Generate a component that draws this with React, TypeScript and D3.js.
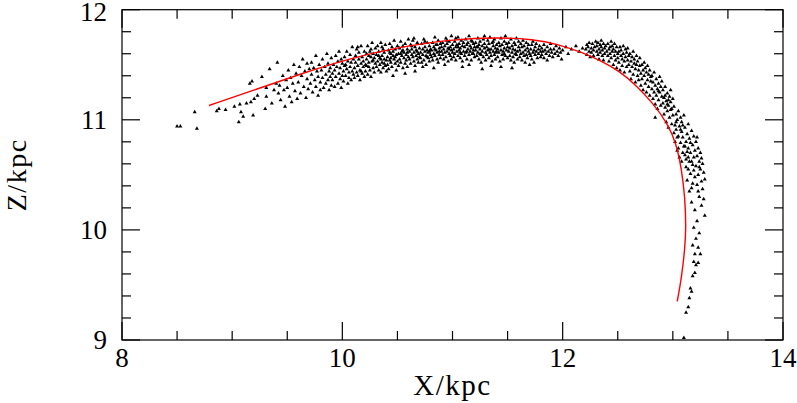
import * as d3 from "d3";

const W = 797;
const H = 403;

// model orbit (red line)
const orbitPts: [number, number][] = [
  [8.79, 11.13], [9.2, 11.27], [9.6, 11.41], [10.07, 11.56], [10.52, 11.66], [10.98, 11.73],
  [11.43, 11.75], [11.73, 11.73], [11.95, 11.69], [12.18, 11.61], [12.34, 11.54], [12.52, 11.44],
  [12.67, 11.31], [12.82, 11.15], [12.95, 10.97], [13.03, 10.79], [13.08, 10.55], [13.11, 10.3],
  [13.12, 10.02], [13.11, 9.84], [13.08, 9.57], [13.04, 9.35],
];

// stream particles, left sparse tail
const tailPts: [number, number][] = [
  [8.5, 10.94], [8.53, 10.94], [8.66, 11.07], [8.68, 10.92], [8.86, 11.08], [8.88, 11.1], [8.94, 11.09],
  [9.02, 11.12], [9.06, 10.98], [9.07, 11.14], [9.08, 11.07], [9.1, 11.03], [9.13, 11.15], [9.16, 11.33],
  [9.18, 11.35], [9.19, 11.04], [9.17, 11.16], [9.2, 11.19], [9.23, 11.22], [9.27, 11.39], [9.3, 11.1],
  [9.31, 11.29], [9.31, 11.21], [9.34, 11.46], [9.36, 11.15], [9.38, 11.27], [9.4, 11.33],
  [9.41, 11.52], [9.42, 11.24], [9.43, 11.31], [9.44, 11.18], [9.46, 11.4], [9.47, 11.27], [9.48, 11.12], [9.49, 11.36],
  [9.5, 11.29], [9.51, 11.45], [9.52, 11.21], [9.53, 11.38], [9.54, 11.16], [9.55, 11.33], [9.56, 11.5], [9.57, 11.26], [9.58, 11.42], [9.59, 11.19],
  [9.6, 11.34], [9.61, 11.48], [9.62, 11.24], [9.63, 11.4], [9.64, 11.55], [9.65, 11.3], [9.66, 11.44], [9.67, 11.2], [9.68, 11.37], [9.68, 11.51], [9.69, 11.28], [9.7, 11.46],
  [9.71, 11.33], [9.72, 11.52], [9.72, 11.41], [9.73, 11.25], [9.74, 11.47], [9.75, 11.36], [9.76, 11.58], [9.76, 11.3], [9.77, 11.44], [9.78, 11.22], [9.78, 11.39], [9.79, 11.5], [9.8, 11.34], [9.8, 11.27],
];

// main arch
const archPts: [number, number][] = [
  [9.81, 11.45], [9.82, 11.38], [9.82, 11.55], [9.83, 11.29], [9.84, 11.48], [9.85, 11.41], [9.85, 11.33], [9.86, 11.6], [9.87, 11.36], [9.87, 11.51], [9.88, 11.27], [9.88, 11.44], [9.89, 11.39], [9.9, 11.56], [9.9, 11.31], [9.89, 11.47],
  [9.91, 11.42], [9.91, 11.36], [9.92, 11.5], [9.93, 11.3], [9.93, 11.45], [9.94, 11.58], [9.94, 11.39], [9.95, 11.48], [9.96, 11.33], [9.96, 11.53], [9.97, 11.42], [9.97, 11.62], [9.98, 11.37], [9.98, 11.47], [9.99, 11.29], [9.99, 11.55], [10.0, 11.4], [10.0, 11.51],
  [10.01, 11.44], [10.01, 11.35], [10.02, 11.57], [10.02, 11.49], [10.03, 11.4], [10.04, 11.62], [10.04, 11.46], [10.05, 11.33], [10.05, 11.53], [10.06, 11.43], [10.06, 11.38], [10.07, 11.59], [10.07, 11.48], [10.08, 11.36], [10.08, 11.52], [10.09, 11.44], [10.09, 11.66], [10.1, 11.41], [10.1, 11.55], [10.03, 11.5],
  [10.11, 11.47], [10.11, 11.38], [10.12, 11.58], [10.12, 11.52], [10.13, 11.43], [10.13, 11.64], [10.14, 11.49], [10.14, 11.4], [10.15, 11.55], [10.15, 11.61], [10.16, 11.45], [10.16, 11.36], [10.17, 11.51], [10.17, 11.67], [10.18, 11.42], [10.18, 11.57], [10.19, 11.48], [10.19, 11.53], [10.2, 11.39], [10.2, 11.62], [10.14, 11.66], [10.17, 11.44],
  [10.21, 11.5], [10.21, 11.44], [10.22, 11.6], [10.22, 11.55], [10.23, 11.41], [10.23, 11.67], [10.24, 11.48], [10.24, 11.52], [10.25, 11.62], [10.25, 11.45], [10.26, 11.57], [10.26, 11.39], [10.27, 11.53], [10.27, 11.7], [10.28, 11.47], [10.28, 11.6], [10.29, 11.43], [10.29, 11.56], [10.3, 11.51], [10.3, 11.65], [10.22, 11.49], [10.26, 11.64], [10.28, 11.54], [10.24, 11.58],
  [10.31, 11.48], [10.31, 11.59], [10.32, 11.53], [10.32, 11.67], [10.33, 11.45], [10.33, 11.62], [10.34, 11.56], [10.34, 11.5], [10.35, 11.7], [10.35, 11.43], [10.36, 11.58], [10.36, 11.52], [10.37, 11.64], [10.37, 11.47], [10.38, 11.55], [10.38, 11.61], [10.39, 11.49], [10.39, 11.68], [10.4, 11.54], [10.4, 11.44], [10.33, 11.58], [10.36, 11.66], [10.38, 11.51], [10.35, 11.55],
  [10.41, 11.57], [10.41, 11.5], [10.42, 11.63], [10.42, 11.46], [10.43, 11.69], [10.43, 11.54], [10.44, 11.6], [10.44, 11.52], [10.45, 11.66], [10.45, 11.48], [10.46, 11.58], [10.46, 11.62], [10.47, 11.55], [10.47, 11.72], [10.48, 11.51], [10.48, 11.64], [10.49, 11.45], [10.49, 11.59], [10.5, 11.67], [10.5, 11.53], [10.43, 11.61], [10.46, 11.4], [10.48, 11.57], [10.44, 11.56],
  [10.51, 11.6], [10.51, 11.49], [10.52, 11.65], [10.52, 11.55], [10.53, 11.71], [10.53, 11.52], [10.54, 11.62], [10.54, 11.58], [10.55, 11.47], [10.55, 11.67], [10.56, 11.56], [10.56, 11.61], [10.57, 11.51], [10.57, 11.69], [10.58, 11.59], [10.58, 11.54], [10.59, 11.64], [10.59, 11.48], [10.6, 11.57], [10.6, 11.73], [10.53, 11.6], [10.55, 11.63], [10.57, 11.42], [10.59, 11.61],
  [10.61, 11.62], [10.61, 11.55], [10.62, 11.68], [10.62, 11.51], [10.63, 11.59], [10.63, 11.64], [10.64, 11.57], [10.64, 11.72], [10.65, 11.53], [10.65, 11.61], [10.66, 11.66], [10.66, 11.49], [10.67, 11.58], [10.67, 11.63], [10.68, 11.55], [10.68, 11.7], [10.69, 11.6], [10.69, 11.52], [10.7, 11.65], [10.7, 11.57], [10.63, 11.67], [10.66, 11.44], [10.68, 11.62], [10.65, 11.74],
  [10.71, 11.61], [10.71, 11.56], [10.72, 11.69], [10.72, 11.52], [10.73, 11.64], [10.73, 11.59], [10.74, 11.73], [10.74, 11.54], [10.75, 11.62], [10.75, 11.66], [10.76, 11.58], [10.76, 11.5], [10.77, 11.63], [10.77, 11.7], [10.78, 11.56], [10.78, 11.61], [10.79, 11.67], [10.79, 11.53], [10.8, 11.59], [10.8, 11.64], [10.73, 11.48], [10.75, 11.71], [10.77, 11.57], [10.79, 11.62],
  [10.81, 11.63], [10.81, 11.57], [10.82, 11.7], [10.82, 11.54], [10.83, 11.66], [10.83, 11.6], [10.84, 11.75], [10.84, 11.58], [10.85, 11.63], [10.85, 11.68], [10.86, 11.55], [10.86, 11.61], [10.87, 11.72], [10.87, 11.52], [10.88, 11.65], [10.88, 11.59], [10.89, 11.69], [10.89, 11.56], [10.9, 11.62], [10.9, 11.66], [10.83, 11.47], [10.86, 11.68], [10.88, 11.62], [10.84, 11.64],
  [10.91, 11.59], [10.91, 11.7], [10.92, 11.55], [10.92, 11.64], [10.93, 11.67], [10.93, 11.61], [10.94, 11.74], [10.94, 11.57], [10.95, 11.62], [10.95, 11.69], [10.96, 11.53], [10.96, 11.65], [10.97, 11.6], [10.97, 11.71], [10.98, 11.58], [10.98, 11.66], [10.99, 11.63], [10.99, 11.55], [11.0, 11.68], [11.0, 11.61], [10.93, 11.5], [10.95, 11.72], [10.97, 11.64], [10.99, 11.76],
  [11.01, 11.64], [11.01, 11.57], [11.02, 11.71], [11.02, 11.6], [11.03, 11.66], [11.03, 11.54], [11.04, 11.68], [11.04, 11.62], [11.05, 11.75], [11.05, 11.58], [11.06, 11.63], [11.06, 11.69], [11.07, 11.56], [11.07, 11.65], [11.08, 11.72], [11.08, 11.6], [11.09, 11.67], [11.09, 11.53], [11.1, 11.62], [11.1, 11.7], [11.03, 11.74], [11.05, 11.66], [11.07, 11.61], [11.09, 11.48],
  [11.11, 11.58], [11.11, 11.66], [11.12, 11.73], [11.12, 11.61], [11.13, 11.55], [11.13, 11.68], [11.14, 11.64], [11.14, 11.7], [11.15, 11.59], [11.15, 11.76], [11.16, 11.62], [11.16, 11.67], [11.17, 11.54], [11.17, 11.65], [11.18, 11.71], [11.18, 11.6], [11.19, 11.63], [11.19, 11.69], [11.2, 11.57], [11.2, 11.66], [11.13, 11.62], [11.15, 11.5], [11.17, 11.72], [11.19, 11.6],
  [11.21, 11.63], [11.21, 11.7], [11.22, 11.58], [11.22, 11.66], [11.23, 11.74], [11.23, 11.61], [11.24, 11.55], [11.24, 11.68], [11.25, 11.64], [11.25, 11.71], [11.26, 11.59], [11.26, 11.52], [11.27, 11.67], [11.27, 11.62], [11.28, 11.73], [11.28, 11.57], [11.29, 11.65], [11.29, 11.69], [11.3, 11.61], [11.3, 11.54], [11.23, 11.66], [11.25, 11.6], [11.27, 11.46], [11.29, 11.76],
  [11.31, 11.66], [11.31, 11.59], [11.32, 11.72], [11.32, 11.63], [11.33, 11.56], [11.33, 11.69], [11.34, 11.61], [11.34, 11.75], [11.35, 11.64], [11.35, 11.58], [11.36, 11.7], [11.36, 11.53], [11.37, 11.67], [11.37, 11.62], [11.38, 11.73], [11.38, 11.59], [11.39, 11.65], [11.39, 11.55], [11.4, 11.68], [11.4, 11.62], [11.33, 11.64], [11.35, 11.49], [11.37, 11.71], [11.39, 11.61],
  [11.41, 11.64], [11.41, 11.57], [11.42, 11.7], [11.42, 11.61], [11.43, 11.67], [11.43, 11.53], [11.44, 11.74], [11.44, 11.63], [11.45, 11.59], [11.45, 11.68], [11.46, 11.62], [11.46, 11.55], [11.47, 11.71], [11.47, 11.65], [11.48, 11.58], [11.48, 11.76], [11.49, 11.63], [11.49, 11.69], [11.5, 11.56], [11.5, 11.66], [11.44, 11.48], [11.47, 11.6],
  [11.51, 11.62], [11.51, 11.7], [11.52, 11.58], [11.52, 11.65], [11.53, 11.54], [11.53, 11.73], [11.54, 11.61], [11.54, 11.67], [11.55, 11.57], [11.55, 11.64], [11.56, 11.7], [11.56, 11.52], [11.57, 11.63], [11.57, 11.68], [11.58, 11.59], [11.58, 11.74], [11.59, 11.62], [11.59, 11.55], [11.6, 11.66], [11.6, 11.71], [11.54, 11.47], [11.57, 11.6],
  [11.61, 11.63], [11.61, 11.57], [11.62, 11.69], [11.62, 11.6], [11.63, 11.54], [11.63, 11.66], [11.64, 11.72], [11.64, 11.61], [11.65, 11.58], [11.65, 11.67], [11.66, 11.63], [11.66, 11.52], [11.67, 11.7], [11.67, 11.59], [11.68, 11.65], [11.68, 11.56], [11.69, 11.62], [11.69, 11.68], [11.7, 11.6], [11.7, 11.5],
  [11.71, 11.64], [11.71, 11.58], [11.72, 11.68], [11.72, 11.55], [11.73, 11.61], [11.73, 11.71], [11.74, 11.63], [11.74, 11.52], [11.75, 11.66], [11.75, 11.59], [11.76, 11.62], [11.76, 11.69], [11.77, 11.56], [11.78, 11.64], [11.78, 11.6], [11.79, 11.67], [11.8, 11.57], [11.8, 11.62],
  [11.81, 11.65], [11.81, 11.59], [11.82, 11.62], [11.83, 11.68], [11.83, 11.56], [11.84, 11.63], [11.85, 11.6], [11.86, 11.66], [11.86, 11.54], [11.87, 11.62], [11.88, 11.58], [11.89, 11.64], [11.89, 11.69], [11.9, 11.61],
  [11.91, 11.57], [11.92, 11.64], [11.93, 11.6], [11.94, 11.67], [11.95, 11.62], [11.96, 11.58], [11.97, 11.65], [11.98, 11.61], [11.99, 11.55], [12.0, 11.63],
  [12.03, 11.66], [12.05, 11.6], [12.08, 11.64], [12.12, 11.67], [12.15, 11.62], [12.18, 11.65],
];

// dense clump at the start of the turn
const clumpPts: [number, number][] = [
  [12.21, 11.64], [12.22, 11.68], [12.22, 11.59], [12.23, 11.66], [12.24, 11.62], [12.24, 11.7], [12.25, 11.57], [12.26, 11.65], [12.26, 11.61], [12.27, 11.69], [12.28, 11.63], [12.28, 11.58], [12.29, 11.66], [12.3, 11.71],
  [12.31, 11.62], [12.31, 11.67], [12.32, 11.59], [12.32, 11.7], [12.33, 11.64], [12.33, 11.55], [12.34, 11.68], [12.34, 11.61], [12.35, 11.66], [12.35, 11.72], [12.36, 11.58], [12.36, 11.63], [12.37, 11.69], [12.37, 11.54], [12.38, 11.65], [12.38, 11.6], [12.39, 11.67], [12.4, 11.62],
  [12.41, 11.58], [12.41, 11.69], [12.42, 11.64], [12.42, 11.53], [12.43, 11.66], [12.43, 11.6], [12.44, 11.71], [12.44, 11.56], [12.45, 11.62], [12.45, 11.67], [12.46, 11.5], [12.46, 11.64], [12.47, 11.58], [12.47, 11.69], [12.48, 11.54], [12.48, 11.62], [12.49, 11.66], [12.49, 11.47], [12.5, 11.6], [12.5, 11.56],
];

// bend going down
const bendPts: [number, number][] = [
  [12.51, 11.62], [12.51, 11.52], [12.52, 11.66], [12.52, 11.45], [12.53, 11.58], [12.53, 11.63], [12.54, 11.49], [12.54, 11.55], [12.55, 11.67], [12.55, 11.6], [12.56, 11.43], [12.56, 11.53], [12.57, 11.64], [12.57, 11.57], [12.58, 11.48], [12.58, 11.61], [12.59, 11.54], [12.59, 11.65], [12.6, 11.5], [12.6, 11.58],
  [12.61, 11.6], [12.61, 11.44], [12.62, 11.53], [12.62, 11.37], [12.63, 11.57], [12.63, 11.48], [12.64, 11.62], [12.64, 11.41], [12.65, 11.51], [12.65, 11.55], [12.66, 11.34], [12.66, 11.46], [12.67, 11.58], [12.67, 11.5], [12.68, 11.4], [12.68, 11.53], [12.69, 11.45], [12.69, 11.36], [12.7, 11.56], [12.7, 11.49],
  [12.71, 11.42], [12.71, 11.31], [12.72, 11.5], [12.72, 11.37], [12.73, 11.27], [12.73, 11.45], [12.74, 11.4], [12.74, 11.52], [12.75, 11.33], [12.75, 11.47], [12.76, 11.25], [12.76, 11.43], [12.77, 11.36], [12.77, 11.49], [12.78, 11.3], [12.78, 11.41], [12.79, 11.22], [12.79, 11.45], [12.8, 11.35], [12.8, 11.39],
  [12.81, 11.28], [12.81, 11.4], [12.82, 11.19], [12.82, 11.34], [12.83, 11.25], [12.83, 11.43], [12.84, 11.31], [12.84, 11.14], [12.85, 11.37], [12.85, 11.22], [12.86, 11.28], [12.86, 11.1], [12.87, 11.33], [12.87, 11.18], [12.88, 11.39], [12.88, 11.25], [12.89, 11.13], [12.89, 11.3], [12.9, 11.21], [12.9, 11.35], [12.84, 11.02], [12.87, 11.26],
  [12.91, 11.15], [12.91, 11.27], [12.92, 11.05], [12.92, 11.2], [12.93, 11.11], [12.93, 11.3], [12.94, 10.98], [12.94, 11.17], [12.95, 11.24], [12.95, 11.08], [12.96, 11.13], [12.96, 10.93], [12.97, 11.21], [12.97, 11.02], [12.98, 11.16], [12.98, 11.27], [12.99, 10.96], [12.99, 11.1], [13.0, 11.19], [13.0, 11.04], [12.93, 11.22], [12.96, 11.18], [12.98, 11.09], [12.95, 11.14],
  [13.01, 10.88], [13.01, 11.12], [13.02, 10.95], [13.02, 10.8], [13.03, 11.05], [13.03, 10.91], [13.04, 10.72], [13.04, 11.0], [13.05, 10.85], [13.05, 11.08], [13.06, 10.94], [13.06, 10.66], [13.07, 11.02], [13.07, 10.79], [13.08, 10.89], [13.08, 10.98], [13.09, 10.7], [13.09, 10.84], [13.1, 11.04], [13.1, 10.76], [13.03, 10.98], [13.05, 10.74], [13.07, 10.91], [13.09, 10.95], [13.04, 10.84], [13.08, 10.62],
  [13.11, 10.93], [13.11, 10.68], [13.12, 10.8], [13.12, 10.57], [13.13, 10.87], [13.13, 10.45], [13.14, 10.74], [13.14, 10.96], [13.15, 10.62], [13.15, 10.83], [13.16, 10.51], [13.16, 10.7], [13.17, 10.9], [13.17, 10.38], [13.18, 10.77], [13.18, 10.59], [13.19, 10.66], [13.19, 10.85], [13.2, 10.48], [13.2, 10.72], [13.12, 10.64], [13.14, 10.55], [13.16, 10.79], [13.18, 10.42], [13.13, 10.71], [13.15, 10.35], [13.17, 10.62], [13.19, 10.54], [13.11, 10.76], [13.14, 10.66],
  [13.21, 10.8], [13.21, 10.58], [13.22, 10.67], [13.22, 10.41], [13.23, 10.74], [13.23, 10.5], [13.24, 10.62], [13.24, 10.3], [13.25, 10.55], [13.25, 10.7], [13.26, 10.44], [13.26, 10.22], [13.27, 10.6], [13.27, 10.37], [13.28, 10.52], [13.29, 10.13], [13.29, 10.46], [13.22, 10.84], [13.24, 10.57], [13.26, 10.65], [13.23, 10.35], [13.28, 10.28],
];

// sparse lower end of the stream
const dropPts: [number, number][] = [
  [13.17, 10.25], [13.2, 10.18], [13.22, 10.08], [13.19, 10.02], [13.24, 9.97], [13.21, 9.92], [13.18, 9.86],
  [13.23, 9.84], [13.2, 9.78], [13.25, 9.78], [13.19, 9.71], [13.21, 9.68], [13.23, 9.7], [13.18, 9.58],
  [13.2, 9.61], [13.16, 9.47], [13.17, 9.44], [13.15, 9.38], [13.14, 9.3], [13.12, 9.25], [13.1, 9.02],
];

const xMajor = [8, 10, 12, 14];
const xMinor = d3.range(8.5, 14, 0.5);
const yMajor = [9, 10, 11, 12];
const yMinor = d3.range(9.2, 12, 0.2);

const x = d3.scaleLinear().domain([8, 14]).range([122, 783]);
const y = d3.scaleLinear().domain([9, 12]).range([340, 9.7]);

const font = "'Liberation Serif', 'DejaVu Serif', serif";

export default function App() {
  const allPts = [...tailPts, ...archPts, ...clumpPts, ...bendPts, ...dropPts];
  const tri = d3.symbol(d3.symbolTriangle, 7)() as string;
  const orbit = d3
    .line<[number, number]>()
    .x((d) => x(d[0]))
    .y((d) => y(d[1]))
    .curve(d3.curveBasis)(orbitPts) as string;

  const [x0, x1] = x.range();
  const [y0, y1] = y.range();
  const majLen = 18;
  const minLen = 9;

  return (
    <svg
      width={W}
      height={H}
      style={{ position: "absolute", left: 0, top: 0, background: "#fff" }}
    >
      {/* particles */}
      <g fill="#000">
        {allPts.map((d, i) => (
          <path key={i} d={tri} transform={`translate(${x(d[0])},${y(d[1])})`} />
        ))}
      </g>

      <path d={orbit} fill="none" stroke="#f00" strokeWidth={1.4} />

      {/* frame + ticks */}
      <g stroke="#000" strokeWidth={1.2} fill="none">
        <rect x={x0} y={y1} width={x1 - x0} height={y0 - y1} />
        {xMajor.map((v) => (
          <g key={"xM" + v}>
            <line x1={x(v)} x2={x(v)} y1={y0} y2={y0 - majLen} />
            <line x1={x(v)} x2={x(v)} y1={y1} y2={y1 + majLen} />
          </g>
        ))}
        {xMinor.filter((v) => v % 2 !== 0).map((v) => (
          <g key={"xm" + v}>
            <line x1={x(v)} x2={x(v)} y1={y0} y2={y0 - minLen} />
            <line x1={x(v)} x2={x(v)} y1={y1} y2={y1 + minLen} />
          </g>
        ))}
        {yMajor.map((v) => (
          <g key={"yM" + v}>
            <line x1={x0} x2={x0 + majLen} y1={y(v)} y2={y(v)} />
            <line x1={x1} x2={x1 - majLen} y1={y(v)} y2={y(v)} />
          </g>
        ))}
        {yMinor.filter((v) => Math.abs(v - Math.round(v)) > 0.01).map((v) => (
          <g key={"ym" + v}>
            <line x1={x0} x2={x0 + minLen} y1={y(v)} y2={y(v)} />
            <line x1={x1} x2={x1 - minLen} y1={y(v)} y2={y(v)} />
          </g>
        ))}
      </g>

      {/* labels */}
      <g fontFamily={font} fontSize={27} fill="#000">
        {xMajor.map((v) => (
          <text key={"xl" + v} x={x(v)} y={367} textAnchor="middle">
            {v}
          </text>
        ))}
        {yMajor.map((v) => (
          <text key={"yl" + v} x={107} y={Math.max(y(v), 12)} dy="0.35em" textAnchor="end">
            {v}
          </text>
        ))}
        <text x={(x0 + x1) / 2} y={395} textAnchor="middle" fontSize={29} letterSpacing={1.5}>
          X/kpc
        </text>
        <text
          transform={`translate(26,${(y0 + y1) / 2}) rotate(-90)`}
          textAnchor="middle"
          fontSize={28}
          letterSpacing={1.5}
        >
          Z/kpc
        </text>
      </g>
    </svg>
  );
}
